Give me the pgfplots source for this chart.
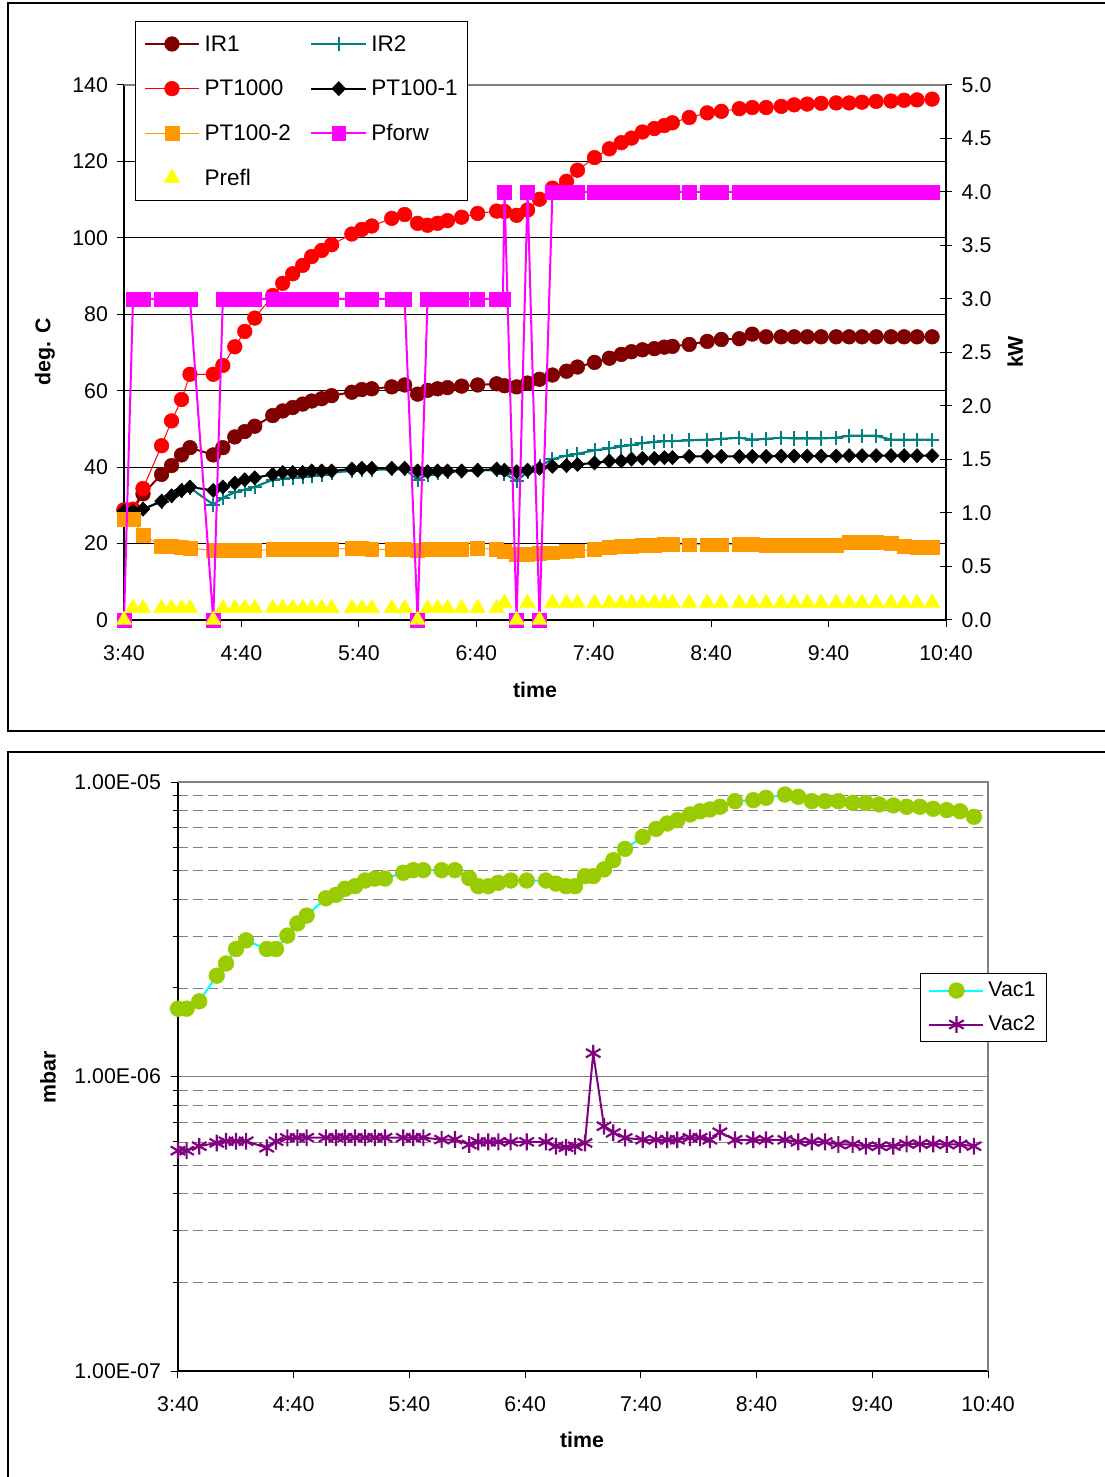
\documentclass[border=0pt]{standalone}
\usepackage{fontspec}
\setmainfont{Liberation Sans}
\usepackage{pgfplots}
\usepackage{pgfplotstable}
\pgfplotsset{compat=1.18}
\definecolor{cIRa}{HTML}{800000}
\definecolor{cIRb}{HTML}{008080}
\definecolor{cPTa}{HTML}{FF0000}
\definecolor{cPTc}{HTML}{FF9900}
\definecolor{cPf}{HTML}{FF00FF}
\definecolor{cPr}{HTML}{FFFF00}
\definecolor{cVa}{HTML}{00FFFF}
\definecolor{cVam}{HTML}{99CC00}
\definecolor{cVb}{HTML}{800080}
\newcommand{\tf}{\fontsize{16}{19}\selectfont}
\newcommand{\lf}{\fontsize{16}{19}\selectfont\bfseries}

\pgfplotstableread{
t ir1 ir2 pta ptb ptc
0 28.8 28.5 28.8 28.5 26.4
4.6 28.8 28.5 29.0 28.5 26.4
9.7 33.0 29.0 34.4 29.0 22.2
19.2 38.1 31.0 45.6 31.1 19.4
24.3 40.4 32.5 52.1 32.5 19.2
29.4 43.2 33.9 57.7 33.9 19.0
33.7 45.1 34.6 64.3 34.8 18.8
45.6 43.2 30.2 64.3 33.9 18.2
50.5 45.1 32.0 66.6 34.8 18.2
56.6 47.9 33.4 71.5 35.8 18.2
61.7 49.3 34.1 75.5 36.7 18.2
66.8 50.7 34.8 79.0 37.2 18.2
76.0 53.5 36.7 84.9 38.1 18.4
81.1 54.7 36.9 88.1 38.6 18.4
86.2 55.6 37.2 90.6 38.6 18.5
91.3 56.5 37.4 92.8 38.6 18.5
95.9 57.3 37.6 95.1 39.0 18.6
101.0 57.9 37.9 96.7 39.0 18.6
106.1 58.7 38.6 98.2 39.0 18.6
116.4 59.6 39.0 101.0 39.5 18.7
121.5 60.3 39.2 102.2 39.7 18.7
126.6 60.5 39.3 103.1 39.7 18.5
136.8 61.0 39.4 105.1 39.7 18.5
143.4 61.5 39.5 106.1 39.7 18.6
150.0 59.1 36.7 103.8 39.0 18.3
155.1 60.1 38.0 103.3 38.8 18.4
160.2 60.5 38.6 103.8 39.0 18.5
165.3 60.8 38.8 104.5 39.0 18.6
172.5 61.2 39.0 105.4 39.0 18.6
180.7 61.5 39.2 106.4 39.2 18.7
190.4 61.8 39.2 107.0 39.5 18.6
194.4 61.3 38.3 106.9 39.2 17.9
200.6 61.0 36.4 105.9 38.8 17.2
206.2 62.0 38.8 107.3 39.2 17.3
212.3 63.0 40.2 110.1 39.7 17.5
218.9 64.1 42.1 113.0 40.2 17.6
226.1 65.1 43.0 114.8 40.4 17.9
231.7 66.2 43.5 117.7 40.7 18.1
240.4 67.4 44.4 121.0 41.1 18.4
248.0 68.5 44.9 123.3 41.6 19.1
254.1 69.5 45.4 124.9 41.6 19.2
259.3 70.2 45.8 126.1 42.1 19.3
264.9 70.7 46.3 127.7 42.3 19.5
271.0 71.0 46.6 128.6 42.3 19.6
276.1 71.4 46.8 129.4 42.5 19.8
280.2 71.6 46.8 130.1 42.5 19.8
288.8 72.1 47.0 131.5 42.8 19.7
298.0 72.9 47.2 132.7 42.8 19.7
305.2 73.4 47.4 133.1 42.8 19.7
314.4 73.6 47.7 133.8 42.8 19.8
321.0 74.8 47.2 134.1 42.8 19.8
328.1 74.1 47.4 134.1 42.8 19.6
335.8 74.1 47.7 134.4 42.9 19.5
342.4 74.1 47.5 134.8 42.9 19.5
349.1 74.1 47.5 135.0 42.9 19.5
356.2 74.1 47.5 135.2 42.9 19.5
363.9 74.1 47.7 135.3 42.9 19.6
370.5 74.1 48.2 135.3 43.0 20.3
377.1 74.1 48.2 135.5 43.0 20.3
384.3 74.1 48.2 135.7 43.0 20.3
391.9 74.1 47.2 135.8 43.0 20.0
398.6 74.1 47.2 136.0 43.0 19.4
405.2 74.1 47.2 136.1 43.0 19.1
412.9 74.1 47.2 136.3 43.0 19.1
}\temps

\pgfplotstableread{
t pf pr
0 0 0
4.6 3 0.11
9.7 3 0.11
19.2 3 0.11
24.3 3 0.11
29.4 3 0.11
33.7 3 0.11
45.6 0 0
50.5 3 0.11
56.6 3 0.11
61.7 3 0.11
66.8 3 0.11
76.0 3 0.11
81.1 3 0.11
86.2 3 0.11
91.3 3 0.11
95.9 3 0.11
101.0 3 0.11
106.1 3 0.11
116.4 3 0.11
121.5 3 0.11
126.6 3 0.11
136.8 3 0.11
143.4 3 0.11
150.0 0 0
155.1 3 0.11
160.2 3 0.11
165.3 3 0.11
172.5 3 0.11
180.7 3 0.11
190.4 3 0.11
193.6 3 nan
194.4 4 0.16
200.6 0 0
206.2 4 0.16
212.3 0 0
218.9 4 0.16
226.1 4 0.16
231.7 4 0.16
240.4 4 0.16
248.0 4 0.16
254.1 4 0.16
259.3 4 0.16
264.9 4 0.16
271.0 4 0.16
276.1 4 0.16
280.2 4 0.16
288.8 4 0.16
298.0 4 0.16
305.2 4 0.16
314.4 4 0.16
321.0 4 0.16
328.1 4 0.16
335.8 4 0.16
342.4 4 0.16
349.1 4 0.16
356.2 4 0.16
363.9 4 0.16
370.5 4 0.16
377.1 4 0.16
384.3 4 0.16
391.9 4 0.16
398.6 4 0.16
405.2 4 0.16
412.9 4 0.16
}\power

\pgfplotstableread{
t v1 v2
0 1.70e-6 5.6e-7
4.5 1.70e-6 5.6e-7
11.0 1.80e-6 5.8e-7
20.1 2.20e-6 5.95e-7
24.9 2.42e-6 6.03e-7
30.1 2.71e-6 6.03e-7
35.3 2.90e-6 6.03e-7
46.0 2.71e-6 5.73e-7
50.8 2.71e-6 6.03e-7
56.7 3.01e-6 6.19e-7
61.9 3.31e-6 6.2e-7
66.7 3.52e-6 6.2e-7
76.7 4.03e-6 6.2e-7
81.9 4.14e-6 6.2e-7
86.6 4.34e-6 6.2e-7
91.8 4.43e-6 6.2e-7
97.0 4.63e-6 6.2e-7
102.1 4.70e-6 6.2e-7
107.3 4.70e-6 6.2e-7
116.8 4.92e-6 6.2e-7
122.0 5.02e-6 6.2e-7
127.2 5.02e-6 6.2e-7
136.7 5.02e-6 6.11e-7
143.6 5.02e-6 6.11e-7
151.0 4.72e-6 5.88e-7
155.7 4.43e-6 6.0e-7
160.9 4.43e-6 6.0e-7
166.1 4.55e-6 6.0e-7
172.5 4.63e-6 6.0e-7
180.8 4.63e-6 6.0e-7
190.8 4.63e-6 6.0e-7
196.0 4.52e-6 5.8e-7
201.2 4.43e-6 5.75e-7
205.9 4.43e-6 5.8e-7
211.0 4.79e-6 5.95e-7
215.3 4.79e-6 1.20e-6
220.9 5.05e-6 6.78e-7
225.7 5.43e-6 6.44e-7
231.8 5.93e-6 6.19e-7
241.0 6.51e-6 6.1e-7
247.9 6.93e-6 6.1e-7
253.7 7.23e-6 6.1e-7
258.9 7.42e-6 6.1e-7
265.5 7.76e-6 6.2e-7
270.7 7.96e-6 6.2e-7
275.8 8.07e-6 6.1e-7
281.0 8.24e-6 6.47e-7
288.8 8.61e-6 6.1e-7
298.3 8.68e-6 6.1e-7
304.9 8.84e-6 6.1e-7
314.7 9.07e-6 6.1e-7
321.6 8.91e-6 6.0e-7
328.6 8.61e-6 6.0e-7
335.5 8.61e-6 6.0e-7
342.4 8.61e-6 5.88e-7
349.8 8.50e-6 5.88e-7
356.7 8.50e-6 5.8e-7
363.6 8.39e-6 5.8e-7
370.9 8.33e-6 5.8e-7
377.8 8.24e-6 5.9e-7
384.7 8.24e-6 5.9e-7
391.6 8.11e-6 5.9e-7
398.6 8.03e-6 5.88e-7
405.5 7.96e-6 5.88e-7
412.7 7.62e-6 5.8e-7
}\vac

\pgfplotsset{
  every tick label/.append style={font=\tf, black},
  /pgf/number format/assume math mode=true,
  legimg/.style={legend image code/.code={\draw[mark repeat=2,mark phase=2,##1] plot coordinates {(0pt,0pt) (20.6pt,0pt) (41.2pt,0pt)};\path[draw=none,fill=none] (0pt,0pt) -- (43.5pt,0pt);}},
  sIRa/.style={color=cIRa, line width=1.5pt, mark=*, mark size=5.5pt, mark options={solid, fill=cIRa, draw=cIRa, line width=0.4pt}},
  sIRb/.style={color=cIRb, line width=1.6pt, mark=+, mark size=5.3pt, mark options={solid, draw=cIRb, line width=1.5pt}},
  sPTa/.style={color=cPTa, line width=0.75pt, mark=*, mark size=5.5pt, mark options={solid, fill=cPTa, draw=cPTa, line width=0.4pt}},
  sPTb/.style={color=black, line width=1.5pt, mark=diamond*, mark size=5.3pt, mark options={solid, fill=black, draw=black, line width=0.4pt, xscale=1.3}},
  sPTc/.style={color=cPTc, line width=0.75pt, mark=square*, mark size=5.2pt, mark options={solid, fill=cPTc, draw=cPTc, line width=0.4pt}},
  sPf/.style={color=cPf, line width=1.5pt, mark=square*, mark size=5.2pt, mark options={solid, fill=cPf, draw=cPf, line width=0.4pt}},
  sPr/.style={only marks, mark=triangle*, mark size=6.6pt, mark options={solid, fill=cPr, draw=cPr, line width=0.4pt}},
}

\begin{document}
\begin{tikzpicture}[x=1pt,y=1pt]
\useasboundingbox (0,0) rectangle (828,1107.75);
\draw[line width=0.8pt] (6,559.5) rectangle (845,1105.5);
\draw[line width=0.8pt] (6,-10) rectangle (845,543.75);

% ---------------- top, primary axis
\begin{axis}[
  at={(93pt,642.75pt)}, anchor=south west,
  width=616.5pt, height=401.25pt, scale only axis,
  xmin=0, xmax=420, ymin=0, ymax=140,
  axis x line*=bottom, axis y line*=left,
  axis line style={black, line width=0.9pt},
  xtick={0,60,...,420},
  xticklabels={3:40,4:40,5:40,6:40,7:40,8:40,9:40,10:40},
  ytick={0,20,...,140},
  xticklabel style={yshift=-10.5pt},
  yticklabel style={xshift=-3pt},
  ymajorgrids, major grid style={black, line width=0.55pt},
  tick align=outside, major tick length=5.5pt,
  tick style={black, line width=0.75pt},
  clip=false,
  xlabel={time}, ylabel={deg. C},
  every axis x label/.style={at={(axis description cs:0.5,-0.1308)}, anchor=center, font=\lf},
  every axis y label/.style={at={(axis description cs:-0.0961,0.501)}, rotate=90, anchor=center, font=\lf},
]
\addplot[sIRa] table[x=t,y=ir1]{\temps};
\addplot[sIRb] table[x=t,y=ir2]{\temps};
\addplot[sPTa] table[x=t,y=pta]{\temps};
\addplot[sPTb] table[x=t,y=ptb]{\temps};
\addplot[sPTc] table[x=t,y=ptc]{\temps};
\end{axis}

% ---------------- top, secondary axis
\begin{axis}[
  at={(93pt,642.75pt)}, anchor=south west,
  width=616.5pt, height=401.25pt, scale only axis,
  xmin=0, xmax=420, ymin=0, ymax=5,
  axis x line*=top, axis y line*=right,
  x axis line style={gray, line width=0.9pt},
  y axis line style={black, line width=0.9pt},
  xtick=\empty,
  ytick={0,0.5,...,5},
  yticklabels={0.0,0.5,1.0,1.5,2.0,2.5,3.0,3.5,4.0,4.5,5.0},
  yticklabel style={xshift=3.75pt},
  tick align=center, major tick length=9pt,
  tick style={black, line width=0.75pt},
  clip=false,
  ylabel={kW},
  every axis y label/.style={at={(axis description cs:1.084,0.501)}, rotate=90, anchor=center, font=\lf},
  legimg,
  legend columns=2,
  legend cell align=left,
  legend style={at={(0.01338,1.1196)}, anchor=north west, draw=black, fill=white, line width=0.75pt,
    font=\fontsize{16.9}{20}\selectfont,
    inner xsep=6pt, inner ysep=7.6pt, row sep=15pt,
    nodes={inner xsep=1.5pt, inner ysep=2pt, text height=12.6pt, text depth=1.9pt},
    /tikz/column 2/.style={column sep=13pt}},
]
\addlegendimage{sIRa}
\addlegendimage{sIRb}
\addlegendimage{sPTa}
\addlegendimage{sPTb}
\addlegendimage{sPTc}
\addplot[sPf] table[x=t,y=pf]{\power};
\addplot[sPr, unbounded coords=discard] table[x=t,y=pr]{\power};
\legend{IR1,IR2,PT1000,PT100-1,PT100-2,Pforw,Prefl}
\end{axis}

% ---------------- bottom axis
\begin{axis}[
  at={(133.5pt,79.5pt)}, anchor=south west,
  width=607.5pt, height=441.75pt, scale only axis,
  xmin=0, xmax=420, ymode=log, ymin=1e-7, ymax=1e-5,
  axis x line*=bottom, axis y line*=left,
  axis line style={black, line width=0.9pt},
  xtick={0,60,...,420},
  xticklabels={3:40,4:40,5:40,6:40,7:40,8:40,9:40,10:40},
  ytick={1e-7,1e-6,1e-5},
  yticklabels={1.00E-07,1.00E-06,1.00E-05},
  xticklabel style={yshift=-10.5pt},
  yticklabel style={xshift=-3.75pt},
  minor ytick={2e-7,3e-7,4e-7,5e-7,6e-7,7e-7,8e-7,9e-7,2e-6,3e-6,4e-6,5e-6,6e-6,7e-6,8e-6,9e-6},
  ymajorgrids, yminorgrids,
  major grid style={gray, line width=0.75pt},
  minor grid style={gray, line width=0.5pt, dash pattern=on 7.5pt off 3.75pt},
  tick align=outside, major tick length=5.5pt, minor tick length=4pt,
  tick style={black, line width=0.75pt},
  clip=false,
  xlabel={time}, ylabel={mbar},
  every axis x label/.style={at={(axis description cs:0.4988,-0.117)}, anchor=center, font=\lf},
  every axis y label/.style={at={(axis description cs:-0.1605,0.4992)}, rotate=90, anchor=center, font=\lf},
  after end axis/.code={\draw[gray, line width=0.9pt] (rel axis cs:0,1) -- (rel axis cs:1,1) -- (rel axis cs:1,0);},
  legend cell align=left,
  legend style={at={(0.916,0.6757)}, anchor=north west, draw=black, fill=white, line width=0.75pt,
    font=\fontsize{16}{19}\selectfont,
    inner xsep=6pt, inner ysep=4.5pt, row sep=9pt,
    nodes={inner xsep=2.25pt, inner ysep=1.5pt, text height=11.5pt, text depth=2pt}},
  legend image code/.code={\draw[mark repeat=2,mark phase=2,#1] plot coordinates {(0pt,0pt) (20.25pt,0pt) (40.5pt,0pt)};\path[draw=none,fill=none] (0pt,0pt) -- (42pt,0pt);},
]
\addplot[color=cVa, line width=1.5pt, mark=*, mark size=5.9pt, mark options={solid, fill=cVam, draw=cVam, line width=0.4pt}] table[x=t,y=v1]{\vac};
\addplot[color=cVb, line width=1.5pt, mark=asterisk, mark size=6.3pt, mark options={solid, draw=cVb, line width=1.6pt}] table[x=t,y=v2]{\vac};
\legend{Vac1,Vac2}
\end{axis}
\end{tikzpicture}
\end{document}
